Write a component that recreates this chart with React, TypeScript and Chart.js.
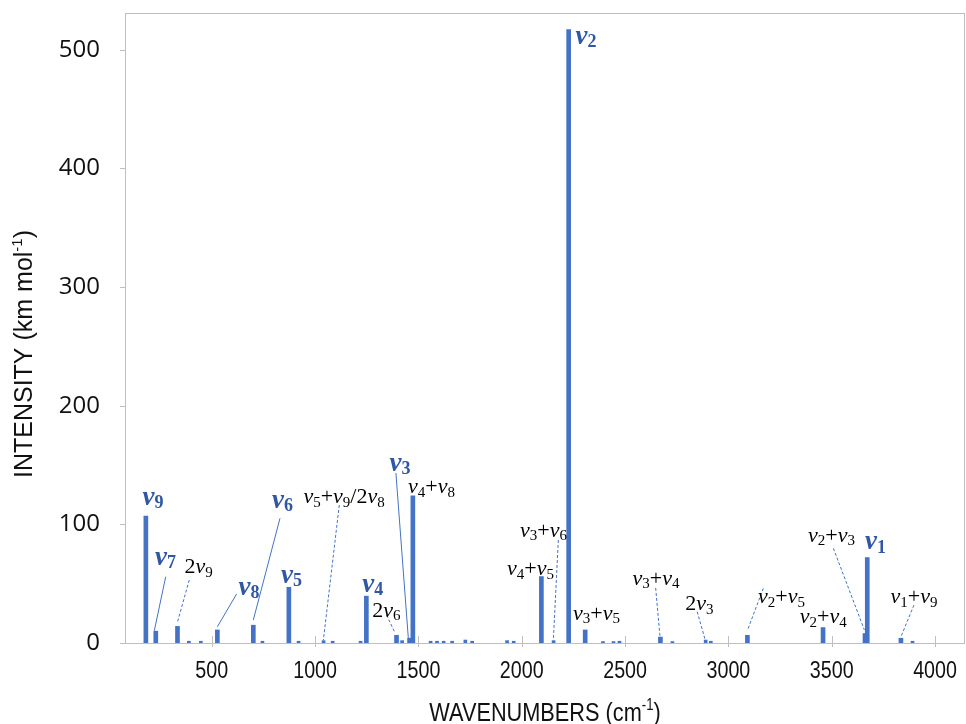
import React, { useEffect, useRef } from "react";
import { Chart, registerables } from "chart.js";

Chart.register(...registerables);

// ---------- data ----------
const X_TICKS = [500, 1000, 1500, 2000, 2500, 3000, 3500, 4000];
const Y_TICKS = [0, 100, 200, 300, 400, 500];

// strong bands (wavenumber cm-1, intensity km/mol)
const PEAK_WN = [181, 229, 334, 527, 701, 873, 1248, 1394, 1457, 1473, 2095, 2227, 2307, 2671, 3092, 3458, 3661, 3672, 3835];
const PEAK_INT = [107, 10, 14, 11, 15, 47, 39.5, 6.5, 4, 124, 56, 517, 11, 5, 6.5, 13, 8, 72, 4];

// weak bands
const WEAK_WN = [389, 447, 745, 920, 1041, 1085, 1220, 1421, 1559, 1590, 1622, 1663, 1727, 1760, 1929, 1961, 2154, 2393, 2444, 2473, 2729, 2890, 2915, 3891];
const WEAK_INT = [1.5, 1.5, 1.5, 1.5, 2, 1.5, 1.5, 2, 1.5, 1.5, 1.5, 1.5, 2.5, 1.5, 2, 1.5, 2, 1.2, 1.2, 1.5, 1.2, 2.5, 1.5, 1.5];

// band assignments ("_" marks a subscript digit)
const LABEL_TEXT = ["v_9", "v_7", "2v_9", "v_8", "v_6", "v_5", "v_5+v_9/2v_8", "v_4", "2v_6", "v_3", "v_4+v_8", "v_4+v_5", "v_3+v_6", "v_2", "v_3+v_5", "v_3+v_4", "2v_3", "v_2+v_5", "v_2+v_4", "v_2+v_3", "v_1", "v_1+v_9"];
const LABEL_FUND = [true, true, false, true, true, true, false, true, false, true, false, false, false, true, false, false, false, false, false, false, true, false];
// label anchor (centre x in cm-1, baseline in km/mol)
const LABEL_X = [215, 276, 436, 680, 842, 886, 1140, 1279, 1345, 1411, 1563, 2042, 2105, 2311, 2362, 2650, 2859, 3257, 3459, 3499, 3712, 3898];
const LABEL_Y = [116.4, 65.8, 59, 40.5, 113.8, 50.6, 118, 43.3, 22.2, 145.3, 126.2, 57.3, 89.6, 505, 19.4, 48.9, 27.8, 33.5, 16.6, 85.4, 79, 33.5];
// leader lines (data units), null = none
const LEADER_X1 = [null, 277, 391, 620, 830, null, 1117, null, 1346, 1391, null, null, 2177, null, null, 2648, 2849, 3169, null, 3508, null, 3898];
const LEADER_Y1 = [null, 55.9, 53.1, 41.3, 105.1, null, 116.3, null, 23.6, 143.3, null, null, 86.8, null, null, 46.4, 26.4, 46.1, null, 79.8, null, 32];
const LEADER_X2 = [null, 222, 333, 527, 701, null, 1040, null, 1387, 1451, null, null, 2153, null, null, 2669, 2887, 3093, null, 3658, null, 3835];
const LEADER_Y2 = [null, 10.4, 17.1, 13.7, 19.4, null, 2.5, null, 8.4, 4.2, null, null, 2.5, null, null, 5.3, 3.1, 11, null, 11, null, 5.3];

const X_MIN = 80;
const X_MAX = 4145;
const Y_MAX = 531;

const BAR_COLOR = "#4472C4";
const LABEL_BLUE = "#3157a4";
const AXIS_GRAY = "#BFBFBF";

type Tok = { t: string; f: string; dy: number };

function drawParts(ctx: CanvasRenderingContext2D, parts: Tok[], cx: number, by: number) {
  let total = 0;
  const widths = parts.map((p) => {
    ctx.font = p.f;
    const w = ctx.measureText(p.t).width;
    total += w;
    return w;
  });
  let x = cx - total / 2;
  parts.forEach((p, i) => {
    ctx.font = p.f;
    ctx.fillText(p.t, x, by + p.dy);
    x += widths[i];
  });
}

function labelTokens(text: string, fund: boolean): Tok[] {
  const fam = "'Liberation Serif', 'Times New Roman', serif";
  const main = fund ? `italic bold 27px ${fam}` : `italic 22px ${fam}`;
  const up = fund ? `bold 27px ${fam}` : `22px ${fam}`;
  const sub = fund ? `bold 18px ${fam}` : `15px ${fam}`;
  const subDy = 3.5;
  const out: Tok[] = [];
  for (let i = 0; i < text.length; i++) {
    const c = text[i];
    if (c === "_") {
      out.push({ t: text[i + 1], f: sub, dy: subDy });
      i++;
    } else if (c === "v") {
      out.push({ t: "v", f: main, dy: 0 });
    } else {
      out.push({ t: c, f: up, dy: 0 });
    }
  }
  return out;
}

const axesPlugin = {
  id: "axesPlugin",
  beforeDatasetsDraw(chart: any) {
    const { ctx, chartArea: a, scales } = chart;
    ctx.save();
    ctx.strokeStyle = AXIS_GRAY;
    ctx.lineWidth = 1;
    ctx.strokeRect(a.left + 0.5, a.top + 0.5, a.right - a.left - 1, a.bottom - a.top);
    ctx.beginPath();
    X_TICKS.forEach((v) => {
      const px = Math.round(scales.x.getPixelForValue(v)) + 0.5;
      ctx.moveTo(px, a.bottom - 7);
      ctx.lineTo(px, a.bottom + 4);
    });
    Y_TICKS.forEach((v) => {
      const py = Math.round(scales.y.getPixelForValue(v)) + 0.5;
      ctx.moveTo(a.left - 5, py);
      ctx.lineTo(a.left, py);
    });
    ctx.stroke();
    ctx.restore();
  },
  afterDraw(chart: any) {
    const { ctx, chartArea: a, scales } = chart;
    const sans = "'Liberation Sans', Arial, sans-serif";
    ctx.save();
    ctx.fillStyle = "#111";
    ctx.textBaseline = "alphabetic";
    ctx.textAlign = "left";
    // x tick labels (narrow)
    X_TICKS.forEach((v) => {
      const px = scales.x.getPixelForValue(v);
      ctx.save();
      ctx.translate(px, a.bottom + 35);
      ctx.scale(0.82, 1);
      drawParts(ctx, [{ t: String(v), f: `24px ${sans}`, dy: 0 }], 0, 0);
      ctx.restore();
    });
    // x title
    ctx.save();
    ctx.translate((a.left + a.right) / 2, 721);
    ctx.scale(0.82, 1);
    drawParts(
      ctx,
      [
        { t: "WAVENUMBERS (cm", f: `26.5px ${sans}`, dy: 0 },
        { t: "-1", f: `16px ${sans}`, dy: -11 },
        { t: ")", f: `26.5px ${sans}`, dy: 0 },
      ],
      0,
      0
    );
    ctx.restore();
    // y title
    ctx.save();
    ctx.translate(32, 354);
    ctx.rotate(-Math.PI / 2);
    drawParts(
      ctx,
      [
        { t: "INTENSITY (km mol", f: `25px ${sans}`, dy: 0 },
        { t: "-1", f: `15px ${sans}`, dy: -10 },
        { t: ")", f: `25px ${sans}`, dy: 0 },
      ],
      0,
      0
    );
    ctx.restore();
    ctx.restore();
  },
};

const labelPlugin = {
  id: "labelPlugin",
  afterDatasetsDraw(chart: any) {
    const { ctx, scales } = chart;
    const xs = scales.x;
    const ys = scales.y;
    ctx.save();
    LABEL_TEXT.forEach((_, i) => {
      const x1 = LEADER_X1[i];
      if (x1 === null) return;
      ctx.beginPath();
      ctx.strokeStyle = BAR_COLOR;
      ctx.lineWidth = 1;
      ctx.setLineDash(LABEL_FUND[i] ? [] : [3, 2]);
      ctx.moveTo(xs.getPixelForValue(x1), ys.getPixelForValue(LEADER_Y1[i] as number));
      ctx.lineTo(xs.getPixelForValue(LEADER_X2[i] as number), ys.getPixelForValue(LEADER_Y2[i] as number));
      ctx.stroke();
    });
    ctx.setLineDash([]);
    ctx.textBaseline = "alphabetic";
    ctx.textAlign = "left";
    LABEL_TEXT.forEach((txt, i) => {
      ctx.fillStyle = LABEL_FUND[i] ? LABEL_BLUE : "#000";
      drawParts(ctx, labelTokens(txt, LABEL_FUND[i]), xs.getPixelForValue(LABEL_X[i]), ys.getPixelForValue(LABEL_Y[i]));
    });
    ctx.restore();
  },
};

export default function App() {
  const ref = useRef<HTMLCanvasElement | null>(null);

  useEffect(() => {
    if (!ref.current) return;
    const chart = new Chart(ref.current, {
      type: "bar",
      data: {
        datasets: [
          {
            label: "strong",
            data: PEAK_WN.map((x, i) => ({ x, y: PEAK_INT[i] })),
            backgroundColor: BAR_COLOR,
            barThickness: 4,
            grouped: false,
          } as any,
          {
            label: "weak",
            data: WEAK_WN.map((x, i) => ({ x, y: WEAK_INT[i] })),
            backgroundColor: BAR_COLOR,
            barThickness: 3,
            grouped: false,
          } as any,
        ],
      },
      options: {
        responsive: false,
        animation: false,
        events: [],
        layout: { padding: { left: 0, right: 1, top: 13, bottom: 0 } },
        plugins: { legend: { display: false }, tooltip: { enabled: false }, title: { display: false } },
        scales: {
          x: {
            type: "linear",
            min: X_MIN,
            max: X_MAX,
            offset: false,
            grid: { display: false },
            border: { display: false },
            ticks: { display: false },
            afterFit: (s: any) => {
              s.height = 81;
              s.paddingLeft = 0;
              s.paddingRight = 0;
            },
          },
          y: {
            type: "linear",
            min: 0,
            max: Y_MAX,
            grid: { display: false },
            border: { display: false },
            ticks: {
              padding: 17,
              color: "#111",
              font: { family: "'Open Sans', sans-serif", size: 24 },
            },
            afterBuildTicks: (s: any) => {
              s.ticks = Y_TICKS.map((v) => ({ value: v }));
            },
            afterFit: (s: any) => {
              s.width = 125;
              s.paddingTop = 0;
              s.paddingBottom = 0;
            },
          },
        },
      } as any,
      plugins: [axesPlugin, labelPlugin],
    });
    return () => chart.destroy();
  }, []);

  return (
    <div style={{ position: "absolute", left: 0, top: 0, width: 966, height: 724, background: "#fff" }}>
      <canvas ref={ref} width={966} height={724} style={{ display: "block" }} />
    </div>
  );
}
